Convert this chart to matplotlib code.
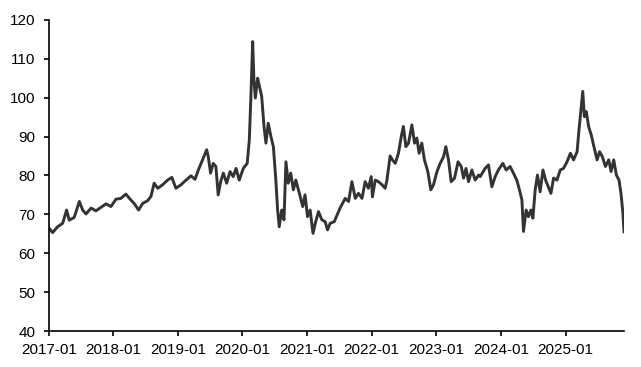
"""
Recreate the long-run index line chart (2017-2025).
"""
import matplotlib
matplotlib.use("Agg")
import matplotlib.pyplot as plt
import matplotlib.dates as mdates
import pandas as pd

# Values
dates = [
    "2017-01-04", "2017-01-23", "2017-02-20", "2017-03-21", "2017-04-12", "2017-04-27",
    "2017-05-25", "2017-06-23", "2017-07-12", "2017-07-31", "2017-08-28", "2017-09-25",
    "2017-10-24", "2017-11-21", "2017-12-19", "2018-01-16", "2018-02-13", "2018-03-13",
    "2018-04-10", "2018-04-29", "2018-05-24", "2018-06-16", "2018-07-14", "2018-08-02",
    "2018-08-20", "2018-09-09", "2018-10-07", "2018-11-04", "2018-11-28", "2018-12-21",
    "2019-01-19", "2019-02-16", "2019-03-16", "2019-04-08", "2019-04-27", "2019-05-16",
    "2019-06-13", "2019-06-22", "2019-07-05", "2019-07-20", "2019-08-04", "2019-08-17",
    "2019-08-31", "2019-09-15", "2019-10-04", "2019-10-23", "2019-11-10", "2019-11-26",
    "2019-12-14", "2020-01-06", "2020-01-28", "2020-02-09", "2020-02-18", "2020-02-28",
    "2020-03-06", "2020-03-14", "2020-03-27", "2020-04-09", "2020-04-19", "2020-05-02",
    "2020-05-13", "2020-05-26", "2020-06-10", "2020-06-24", "2020-07-08", "2020-07-18",
    "2020-07-27", "2020-08-10", "2020-08-23", "2020-09-03", "2020-09-16", "2020-09-30",
    "2020-10-15", "2020-10-29", "2020-11-18", "2020-12-07", "2020-12-20", "2021-01-03",
    "2021-01-18", "2021-02-03", "2021-02-16", "2021-03-06", "2021-03-25", "2021-04-13",
    "2021-04-26", "2021-05-11", "2021-06-03", "2021-07-06", "2021-08-04", "2021-08-23",
    "2021-09-11", "2021-09-30", "2021-10-18", "2021-11-07", "2021-11-25", "2021-12-13",
    "2021-12-29", "2022-01-05", "2022-01-21", "2022-02-08", "2022-02-28", "2022-03-18",
    "2022-03-28", "2022-04-15", "2022-04-28", "2022-05-14", "2022-06-01", "2022-06-17",
    "2022-06-29", "2022-07-13", "2022-07-28", "2022-08-16", "2022-08-31", "2022-09-13",
    "2022-09-26", "2022-10-11", "2022-10-26", "2022-11-14", "2022-12-01", "2022-12-16",
    "2023-01-05", "2023-01-23", "2023-02-11", "2023-02-24", "2023-03-11", "2023-03-26",
    "2023-04-14", "2023-05-04", "2023-05-22", "2023-06-04", "2023-06-18", "2023-07-02",
    "2023-07-21", "2023-08-09", "2023-08-28", "2023-09-06", "2023-10-04", "2023-10-23",
    "2023-11-11", "2023-11-30", "2023-12-18", "2024-01-12", "2024-01-31", "2024-02-22",
    "2024-03-12", "2024-03-31", "2024-04-15", "2024-04-29", "2024-05-08", "2024-05-23",
    "2024-06-05", "2024-06-19", "2024-06-30", "2024-07-13", "2024-07-26", "2024-08-10",
    "2024-08-26", "2024-09-10", "2024-09-25", "2024-10-10", "2024-10-25", "2024-11-13",
    "2024-12-02", "2024-12-20", "2025-01-09", "2025-01-28", "2025-02-15", "2025-03-07",
    "2025-03-16", "2025-03-25", "2025-04-08", "2025-04-17", "2025-04-28", "2025-05-11",
    "2025-05-26", "2025-06-08", "2025-06-28", "2025-07-12", "2025-07-28", "2025-08-14",
    "2025-09-02", "2025-09-15", "2025-09-30", "2025-10-15", "2025-10-30", "2025-11-10",
    "2025-11-21", "2025-11-27",
]
values = [
    66.4, 65.3, 66.8, 67.7, 71.1, 68.5,
    69.2, 73.3, 71.1, 70.1, 71.6, 70.9,
    71.8, 72.7, 72.0, 73.9, 74.1, 75.2,
    73.7, 72.8, 71.1, 72.8, 73.5, 74.6,
    78.0, 76.7, 77.6, 78.8, 79.5, 76.7,
    77.6, 78.8, 79.9, 79.0, 81.4, 83.5,
    86.6, 84.8, 80.6, 83.1, 82.3, 75.0,
    78.4, 80.6, 78.0, 81.0, 79.7, 81.8,
    78.8, 81.8, 83.1, 89.1, 100.3, 114.4,
    104.6, 99.9, 105.0, 102.4, 100.3, 92.6,
    88.3, 93.4, 90.0, 87.4, 78.8, 71.1,
    66.8, 71.1, 68.6, 83.5, 78.0, 80.6,
    76.3, 78.8, 75.4, 72.0, 75.0, 69.4,
    71.1, 65.1, 67.7, 70.7, 68.6, 68.1,
    66.0, 67.7, 68.1, 71.6, 74.1, 73.3,
    78.4, 74.1, 75.4, 74.1, 78.4, 76.7,
    79.7, 74.5, 78.8, 78.4, 77.6, 76.7,
    78.8, 85.0, 84.0, 83.1, 85.7, 90.0,
    92.6, 87.4, 88.3, 93.0, 88.3, 89.6,
    85.7, 88.3, 84.0, 81.0, 76.3, 77.6,
    81.0, 83.1, 84.8, 87.4, 84.0, 78.4,
    79.3, 83.5, 82.3, 79.3, 81.8, 78.4,
    81.4, 78.8, 80.1, 79.7, 81.8, 82.7,
    77.1, 79.7, 81.4, 83.1, 81.4, 82.3,
    80.6, 78.8, 76.3, 73.7, 65.6, 71.1,
    69.4, 71.1, 69.0, 76.3, 80.1, 75.8,
    81.4, 78.8, 77.1, 75.4, 79.3, 78.8,
    81.4, 81.8, 83.5, 85.7, 84.0, 86.1,
    90.9, 95.1, 101.6, 95.1, 96.4, 92.6,
    90.4, 87.8, 84.0, 86.1, 84.8, 82.3,
    84.0, 81.0, 84.0, 80.1, 78.8, 75.4,
    70.3, 65.5,
]
y_ticks = [40, 50, 60, 70, 80, 90, 100, 110, 120]
x_tick_years = [2017, 2018, 2019, 2020, 2021, 2022, 2023, 2024, 2025]

series = pd.Series(values, index=pd.to_datetime(dates))

plt.rcParams['font.family'] = ['Liberation Sans', 'DejaVu Sans']

fig = plt.figure(figsize=(6.41, 3.67), dpi=100)
ax = fig.add_axes([0.076, 0.098, 0.898, 0.848])

ax.plot(series.index, series.values, color='#333333', linewidth=2.1,
        solid_joinstyle='round')

ax.set_ylim(40, 120)
ax.set_yticks(y_ticks)
ax.set_xlim(pd.Timestamp("2017-01-01"), pd.Timestamp("2025-11-29"))
ax.set_xticks([pd.Timestamp(f"{y}-01-01") for y in x_tick_years])
ax.xaxis.set_major_formatter(mdates.DateFormatter("%Y-%m"))

ax.spines['top'].set_visible(False)
ax.spines['right'].set_visible(False)
for side in ('left', 'bottom'):
    ax.spines[side].set_linewidth(1.2)
    ax.spines[side].set_color('black')
ax.tick_params(axis='both', direction='out', length=3.5, width=1.2,
               labelsize=11, colors='black')
ax.tick_params(axis='y', pad=6)
ax.tick_params(axis='x', pad=5)

fig.savefig("out.png", dpi=100, facecolor='white')
plt.close(fig)
